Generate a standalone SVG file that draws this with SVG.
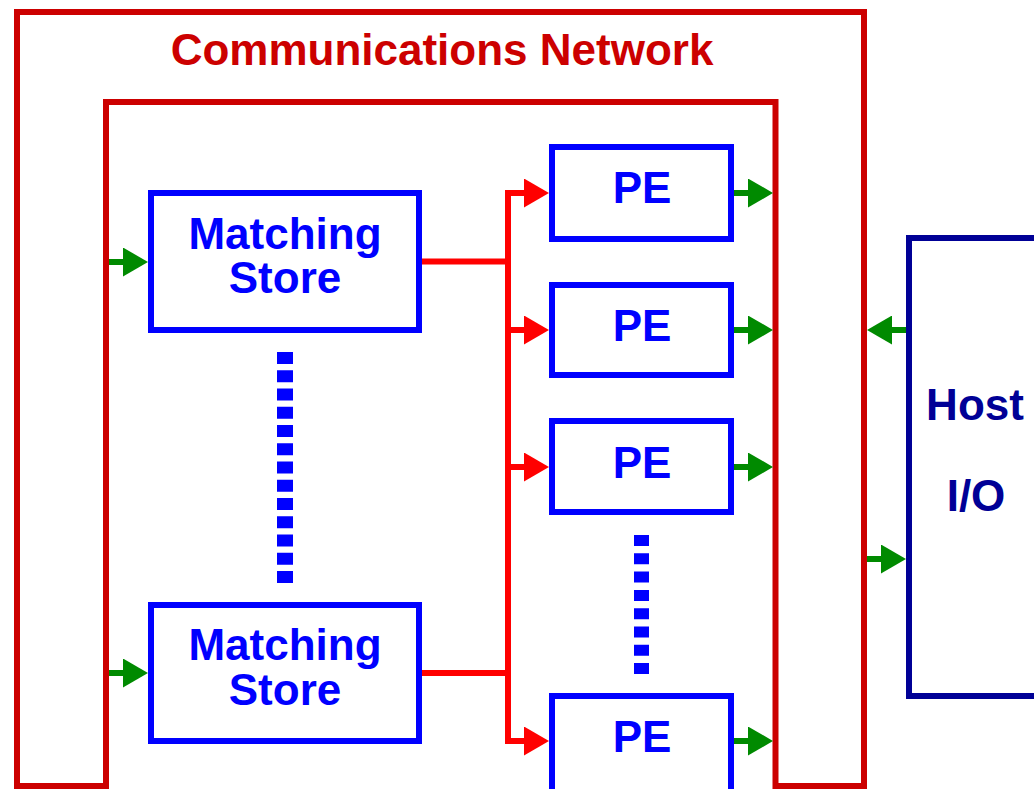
<svg xmlns="http://www.w3.org/2000/svg" width="1034" height="789" viewBox="0 0 1034 789">
<style>
  .frame{fill:none;stroke:#CC0000;stroke-width:6;stroke-linejoin:miter}
  .box{fill:#FFFFFF;stroke:#0000FF;stroke-width:6}
  .host{fill:#FFFFFF;stroke:#000096;stroke-width:6}
  .lbl{font-family:"Liberation Sans",Arial,Helvetica,sans-serif;font-weight:bold;font-size:44px;text-anchor:middle}
  .blue{fill:#0000FF}
  .navy{fill:#000096}
  .bus{fill:none;stroke:#FF0000;stroke-width:6}
  .grn{fill:none;stroke:#008A00;stroke-width:6}
  .dots{fill:none;stroke:#0000FF}
</style>
<defs>
  <marker id="ar" viewBox="0 0 25 29" refX="17" refY="14.5" markerWidth="25" markerHeight="29" markerUnits="userSpaceOnUse" orient="auto">
    <polygon points="0,0 25,14.5 0,29" fill="#FF0000"/>
  </marker>
  <marker id="ag" viewBox="0 0 25 29" refX="17" refY="14.5" markerWidth="25" markerHeight="29" markerUnits="userSpaceOnUse" orient="auto">
    <polygon points="0,0 25,14.5 0,29" fill="#008A00"/>
  </marker>
</defs>
<rect width="1034" height="789" fill="#FFFFFF"/>

<g id="network">
  <polygon class="frame" points="17,786 17,12 864,12 864,786 775.5,786 775.5,102 106,102 106,786"/>
  <text class="lbl" x="442" y="65" fill="#CC0000">Communications Network</text>
</g>

<g id="connectors">
  <polyline class="bus" points="421,261.5 508,261.5"/>
  <polyline class="bus" points="421,673 508,673"/>
  <polyline class="bus" points="508,193 508,741"/>
  <line class="bus" x1="505" y1="193" x2="541" y2="193" marker-end="url(#ar)"/>
  <line class="bus" x1="505" y1="330" x2="541" y2="330" marker-end="url(#ar)"/>
  <line class="bus" x1="505" y1="467" x2="541" y2="467" marker-end="url(#ar)"/>
  <line class="bus" x1="505" y1="741" x2="541" y2="741" marker-end="url(#ar)"/>
  <line class="grn" x1="109" y1="262" x2="140" y2="262" marker-end="url(#ag)"/>
  <line class="grn" x1="109" y1="673" x2="140" y2="673" marker-end="url(#ag)"/>
  <line class="grn" x1="734" y1="193" x2="765" y2="193" marker-end="url(#ag)"/>
  <line class="grn" x1="734" y1="330" x2="765" y2="330" marker-end="url(#ag)"/>
  <line class="grn" x1="734" y1="467" x2="765" y2="467" marker-end="url(#ag)"/>
  <line class="grn" x1="734" y1="741" x2="765" y2="741" marker-end="url(#ag)"/>
  <line class="grn" x1="906" y1="330" x2="875" y2="330" marker-end="url(#ag)"/>
  <line class="grn" x1="867" y1="559" x2="898" y2="559" marker-end="url(#ag)"/>
</g>

<g id="ms1">
  <rect class="box" x="151" y="193" width="268" height="137"/>
  <text class="lbl blue" x="285" y="249">Matching</text>
  <text class="lbl blue" x="285" y="293">Store</text>
</g>
<g id="ms-dots">
  <line class="dots" x1="285" y1="352" x2="285" y2="584" stroke-width="16" stroke-dasharray="12 6.25"/>
</g>
<g id="ms2">
  <rect class="box" x="151" y="605" width="268" height="136"/>
  <text class="lbl blue" x="285" y="660">Matching</text>
  <text class="lbl blue" x="285" y="705">Store</text>
</g>

<g id="pe1">
  <rect class="box" x="552" y="147" width="179" height="92"/>
  <text class="lbl blue" x="642" y="203">PE</text>
</g>
<g id="pe2">
  <rect class="box" x="552" y="285" width="179" height="90"/>
  <text class="lbl blue" x="642" y="341">PE</text>
</g>
<g id="pe3">
  <rect class="box" x="552" y="421" width="179" height="91"/>
  <text class="lbl blue" x="642" y="478">PE</text>
</g>
<g id="pe-dots">
  <line class="dots" x1="641.5" y1="535" x2="641.5" y2="675" stroke-width="15" stroke-dasharray="11 7.3"/>
</g>
<g id="pe4">
  <rect class="box" x="552" y="696" width="179" height="110"/>
  <text class="lbl blue" x="642" y="752">PE</text>
</g>

<g id="host">
  <rect class="host" x="909" y="238" width="200" height="458"/>
  <text class="lbl navy" x="975" y="420">Host</text>
  <text class="lbl navy" x="976" y="511">I/O</text>
</g>
</svg>
